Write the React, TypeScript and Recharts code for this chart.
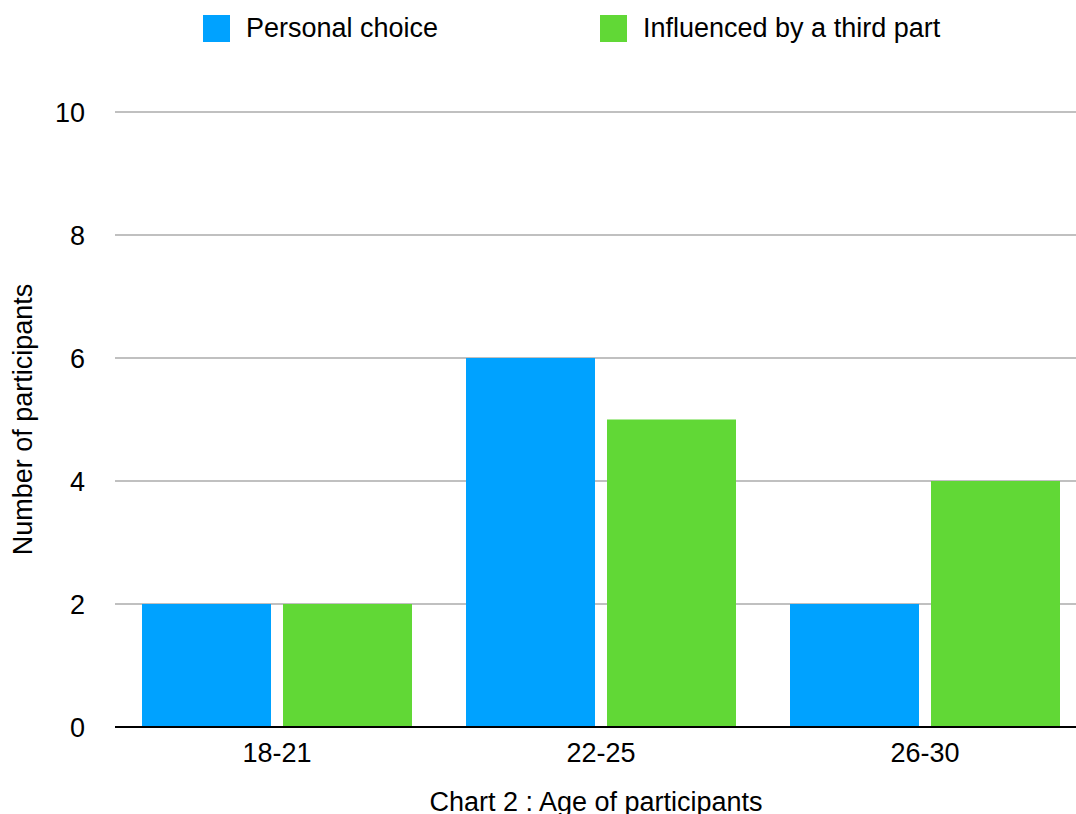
import { BarChart, Bar, XAxis, YAxis, CartesianGrid } from "recharts";

const ageGroups = ["18-21", "22-25", "26-30"];
const personalChoice = [2, 6, 2];
const thirdParty = [2, 5, 4];
const yTicks = [0, 2, 4, 6, 8, 10];

const BLUE = "#00A2FF";
const GREEN = "#61D836";
const FONT = '"Liberation Sans", Arial, Helvetica, sans-serif';
const FONT_SIZE = 27;

const data = ageGroups.map((age, i) => ({
  age,
  personal: personalChoice[i],
  third: thirdParty[i],
}));

const legendItems = [
  { label: "Personal choice", color: BLUE },
  { label: "Influenced by a third part", color: GREEN },
];

// legend drawn as plain html above the plot, like the original numbers chart
const ChartLegend = () => (
  <div
    style={{
      position: "absolute",
      top: 14,
      left: 0,
      display: "flex",
      alignItems: "center",
      fontFamily: FONT,
      fontSize: FONT_SIZE,
      color: "#000",
      lineHeight: "28px",
    }}
  >
    {legendItems.map((item, i) => (
      <div
        key={item.label}
        style={{ display: "flex", alignItems: "center", marginLeft: i === 0 ? 203 : 0, width: i === 0 ? 397 : undefined }}
      >
        <div style={{ width: 27, height: 27, background: item.color, marginRight: 16 }} />
        <span>{item.label}</span>
      </div>
    ))}
  </div>
);

export default function App() {
  return (
    <div style={{ position: "absolute", left: 0, top: 0, width: 1076, height: 814, overflow: "hidden", background: "#fff" }}>
      <ChartLegend />
      <BarChart
        width={1087}
        height={814}
        data={data}
        margin={{ top: 112, right: 0, left: 0, bottom: 0 }}
        barCategoryGap={27}
        barGap={12}
      >
        <CartesianGrid horizontal vertical={false} stroke="#C0C0C0" strokeWidth={2} />
        <XAxis
          dataKey="age"
          height={87}
          tickLine={false}
          tickSize={0}
          tickMargin={16}
          axisLine={{ stroke: "#000", strokeWidth: 2 }}
          tick={{ fill: "#000", fontSize: FONT_SIZE, fontFamily: FONT }}
          label={{
            value: "Chart 2 : Age of participants",
            position: "insideBottom",
            offset: 3,
            fill: "#000",
            fontSize: FONT_SIZE,
            fontFamily: FONT,
            dx: -5,
          }}
        />
        <YAxis
          width={115}
          domain={[0, 10]}
          ticks={yTicks}
          interval={0}
          axisLine={false}
          tickLine={false}
          tickSize={0}
          tickMargin={30}
          tick={{ fill: "#000", fontSize: FONT_SIZE, fontFamily: FONT }}
          label={{
            value: "Number of participants",
            angle: -90,
            position: "insideLeft",
            offset: 22,
            fill: "#000",
            fontSize: FONT_SIZE,
            fontFamily: FONT,
            style: { textAnchor: "middle" },
          }}
        />
        <Bar dataKey="personal" name="Personal choice" fill={BLUE} isAnimationActive={false} />
        <Bar dataKey="third" name="Influenced by a third part" fill={GREEN} isAnimationActive={false} />
      </BarChart>
    </div>
  );
}
